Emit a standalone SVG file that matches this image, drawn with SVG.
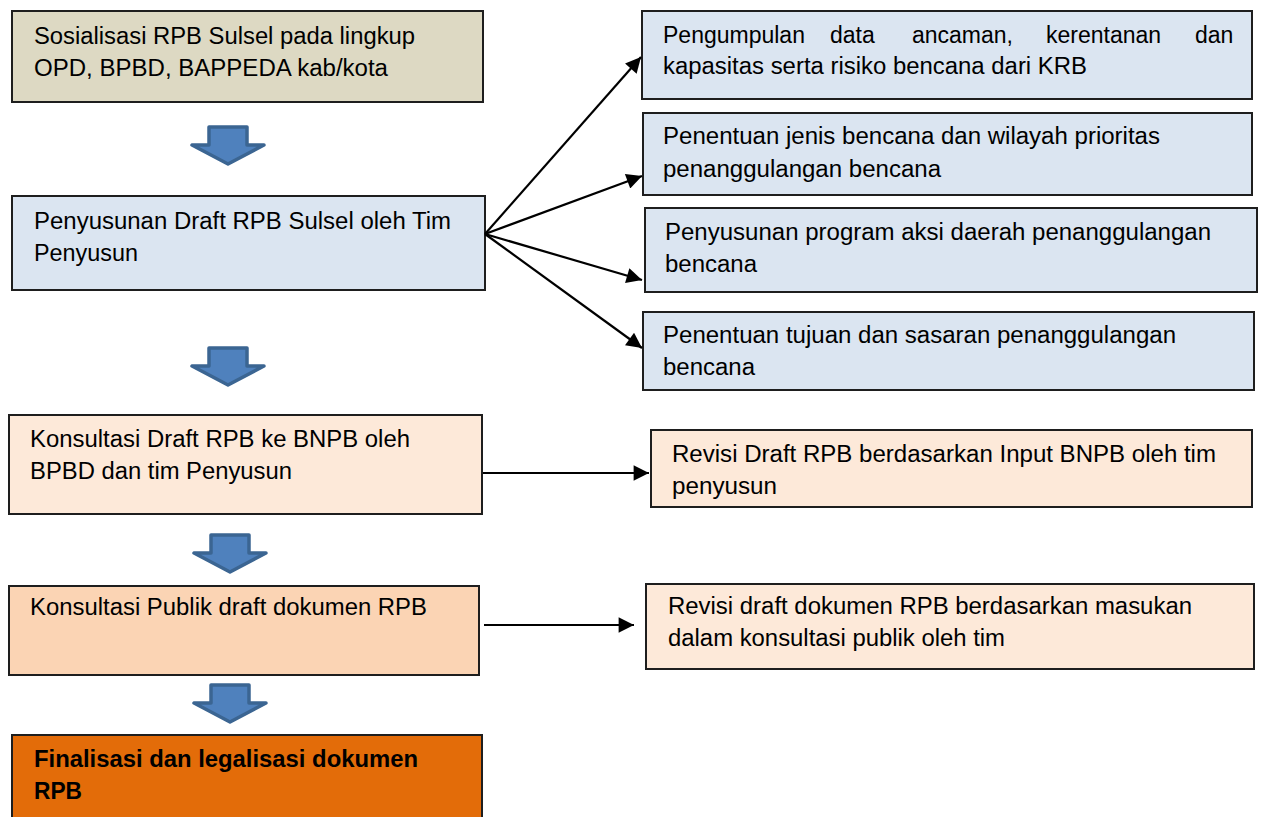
<svg xmlns="http://www.w3.org/2000/svg" width="1263" height="817" viewBox="0 0 1263 817">
<defs>
<style>
.box{stroke:#1e1e1e;stroke-width:2}
.t{font-family:"Liberation Sans",Arial,sans-serif;font-size:23px;fill:#000}
.b{font-weight:bold}
.c{stroke:#000;stroke-width:2.2;fill:none}
.blk{fill:#4f81bd;stroke:#3b6592;stroke-width:3.5;stroke-linejoin:round}
</style>
<marker id="ah" viewBox="0 0 10 10" refX="10" refY="5" markerWidth="8" markerHeight="7" markerUnits="strokeWidth" orient="auto">
<path d="M0,0 L10,5 L0,10 z" fill="#000"/>
</marker>
<path id="down" d="M-19,0 H19 V18 H36 L0,37 L-36,18 H-19 Z"/>
</defs>
<rect width="1263" height="817" fill="#fff"/>

<g id="n1"><rect class="box" x="12" y="11" width="471" height="91" fill="#ddd9c3"/>
<text class="t" x="34" y="44" textLength="381" lengthAdjust="spacingAndGlyphs">Sosialisasi RPB Sulsel pada lingkup</text>
<text class="t" x="34" y="76" textLength="354" lengthAdjust="spacingAndGlyphs">OPD, BPBD, BAPPEDA kab/kota</text></g>

<g id="n2"><rect class="box" x="12" y="196" width="473" height="94" fill="#dbe5f1"/>
<text class="t" x="34" y="229" textLength="417" lengthAdjust="spacingAndGlyphs">Penyusunan Draft RPB Sulsel oleh Tim</text>
<text class="t" x="34" y="261" textLength="104" lengthAdjust="spacingAndGlyphs">Penyusun</text></g>

<g id="n3"><rect class="box" x="9" y="415" width="473" height="99" fill="#fde9d9"/>
<text class="t" x="30" y="447" textLength="380" lengthAdjust="spacingAndGlyphs">Konsultasi Draft RPB ke BNPB oleh</text>
<text class="t" x="30" y="479" textLength="262" lengthAdjust="spacingAndGlyphs">BPBD dan tim Penyusun</text></g>

<g id="n4"><rect class="box" x="9" y="586" width="470" height="89" fill="#fbd4b4"/>
<text class="t" x="30" y="615" textLength="397" lengthAdjust="spacingAndGlyphs">Konsultasi Publik draft dokumen RPB</text></g>

<g id="n5"><rect class="box" x="12" y="735" width="470" height="90" fill="#e36c09"/>
<text class="t b" x="34" y="767" textLength="384" lengthAdjust="spacingAndGlyphs">Finalisasi dan legalisasi dokumen</text>
<text class="t b" x="34" y="799" textLength="48" lengthAdjust="spacingAndGlyphs">RPB</text></g>

<g id="r1"><rect class="box" x="642" y="11" width="610" height="88" fill="#dbe5f1"/>
<text class="t" y="43"><tspan x="663">Pengumpulan</tspan> <tspan x="830">data</tspan> <tspan x="912">ancaman,</tspan> <tspan x="1046">kerentanan</tspan> <tspan x="1195">dan</tspan></text>
<text class="t" x="663" y="74" textLength="424" lengthAdjust="spacingAndGlyphs">kapasitas serta risiko bencana dari KRB</text></g>

<g id="r2"><rect class="box" x="643" y="113" width="609" height="82" fill="#dbe5f1"/>
<text class="t" x="663" y="144" textLength="497" lengthAdjust="spacingAndGlyphs">Penentuan jenis bencana dan wilayah prioritas</text>
<text class="t" x="663" y="177" textLength="278" lengthAdjust="spacingAndGlyphs">penanggulangan bencana</text></g>

<g id="r3"><rect class="box" x="645" y="208" width="612" height="84" fill="#dbe5f1"/>
<text class="t" x="665" y="240" textLength="546" lengthAdjust="spacingAndGlyphs">Penyusunan program aksi daerah penanggulangan</text>
<text class="t" x="665" y="272" textLength="92" lengthAdjust="spacingAndGlyphs">bencana</text></g>

<g id="r4"><rect class="box" x="643" y="312" width="611" height="78" fill="#dbe5f1"/>
<text class="t" x="663" y="343" textLength="513" lengthAdjust="spacingAndGlyphs">Penentuan tujuan dan sasaran penanggulangan</text>
<text class="t" x="663" y="375" textLength="92" lengthAdjust="spacingAndGlyphs">bencana</text></g>

<g id="r5"><rect class="box" x="651" y="430" width="601" height="77" fill="#fde9d9"/>
<text class="t" x="672" y="462" textLength="544" lengthAdjust="spacingAndGlyphs">Revisi Draft RPB berdasarkan Input BNPB oleh tim</text>
<text class="t" x="672" y="494" textLength="105" lengthAdjust="spacingAndGlyphs">penyusun</text></g>

<g id="r6"><rect class="box" x="646" y="584" width="608" height="85" fill="#fde9d9"/>
<text class="t" x="668" y="614" textLength="524" lengthAdjust="spacingAndGlyphs">Revisi draft dokumen RPB berdasarkan masukan</text>
<text class="t" x="668" y="646" textLength="337" lengthAdjust="spacingAndGlyphs">dalam konsultasi publik oleh tim</text></g>

<g id="flow-arrows">
<use href="#down" class="blk" x="228" y="127"/>
<use href="#down" class="blk" x="228" y="348"/>
<use href="#down" class="blk" x="230" y="535"/>
<use href="#down" class="blk" x="230" y="685"/>
</g>

<g id="connectors">
<line class="c" x1="485" y1="234" x2="641" y2="57" marker-end="url(#ah)"/>
<line class="c" x1="485" y1="234" x2="642" y2="176" marker-end="url(#ah)"/>
<line class="c" x1="485" y1="234" x2="642" y2="280" marker-end="url(#ah)"/>
<line class="c" x1="485" y1="234" x2="642" y2="348" marker-end="url(#ah)"/>
<line class="c" x1="483" y1="473" x2="649" y2="473" marker-end="url(#ah)"/>
<line class="c" x1="484" y1="625" x2="634" y2="625" marker-end="url(#ah)"/>
</g>
</svg>
